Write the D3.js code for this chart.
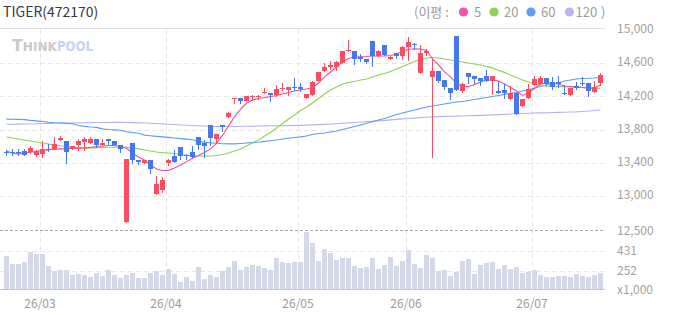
<!DOCTYPE html>
<html>
<head>
<meta charset="utf-8">
<style>
body { margin: 0; background: #fff; }
svg { display: block; font-family: "Noto Sans CJK KR", "Noto Sans", sans-serif; }
</style>
</head>
<body>
<svg id="chart" width="673" height="315"></svg>
<script src="https://cdnjs.cloudflare.com/ajax/libs/d3/7.8.5/d3.min.js"></script>
<script>
// ---- data ----
var title = 'TIGER(472170)';
var legendTitle = '(이평 :';
var maNames = ['5', '20', '60', '120'];

var dates = [
  '2026-02-20','2026-02-23','2026-02-24','2026-02-25','2026-02-26','2026-02-27',
  '2026-03-03','2026-03-04','2026-03-05','2026-03-06','2026-03-09','2026-03-10','2026-03-11','2026-03-12','2026-03-13',
  '2026-03-16','2026-03-17','2026-03-18','2026-03-19','2026-03-20','2026-03-23','2026-03-24','2026-03-25','2026-03-26',
  '2026-03-27','2026-03-30','2026-03-31',
  '2026-04-01','2026-04-02','2026-04-03','2026-04-06','2026-04-07','2026-04-08','2026-04-09','2026-04-10','2026-04-13',
  '2026-04-14','2026-04-15','2026-04-16','2026-04-17','2026-04-20','2026-04-21','2026-04-22','2026-04-23','2026-04-24',
  '2026-04-27','2026-04-28','2026-04-29','2026-04-30',
  '2026-05-04','2026-05-06','2026-05-07','2026-05-08','2026-05-11','2026-05-12','2026-05-13','2026-05-14','2026-05-15',
  '2026-05-18','2026-05-19','2026-05-20','2026-05-21','2026-05-22','2026-05-26','2026-05-27','2026-05-28','2026-05-29',
  '2026-06-01','2026-06-02','2026-06-04','2026-06-05','2026-06-08','2026-06-09','2026-06-10','2026-06-11','2026-06-12',
  '2026-06-15','2026-06-16','2026-06-17','2026-06-18','2026-06-19','2026-06-22','2026-06-23','2026-06-24','2026-06-25',
  '2026-06-26','2026-06-29','2026-06-30',
  '2026-07-01','2026-07-02','2026-07-03','2026-07-06','2026-07-07','2026-07-08','2026-07-09','2026-07-10','2026-07-13',
  '2026-07-14','2026-07-15','2026-07-16'
];

var open = [13530,13535,13535,13545,13530,13500,13510,13565,13570,13680,
  13660,13570,13620,13655,13635,13690,13615,13685,13660,13615,
  12695,13635,13435,13405,13435,13025,13075,13405,13485,13595,
  13490,13530,13715,13635,13855,13690,13855,13955,14175,14180,
  14150,14200,14200,14240,14245,14215,14295,14280,14310,14320,
  14180,14220,14390,14510,14550,14560,14605,14745,14745,14670,
  14650,14865,14685,14815,14655,14725,14685,14790,14830,14485,
  14720,14440,14505,14400,14300,14930,14270,14485,14445,14425,
  14445,14385,14265,14280,14175,14245,14085,14180,14340,14350,
  14425,14375,14375,14245,14220,14325,14365,14360,14255,14365];

var high = [13555,13565,13565,13570,13605,13555,13660,13630,13710,13725,
  13660,13605,13685,13710,13710,13690,13690,13685,13660,13615,
  13450,13635,13435,13435,13435,13245,13235,13450,13555,13595,
  13510,13605,13715,13675,13855,13750,13855,14015,14180,14180,
  14205,14215,14220,14300,14245,14340,14365,14310,14425,14360,
  14230,14390,14495,14600,14625,14630,14745,14880,14745,14710,
  14650,14865,14760,14815,14705,14725,14810,14910,14845,14815,
  14770,14650,14505,14400,14300,14930,14365,14485,14445,14425,
  14520,14445,14390,14350,14325,14245,14175,14350,14445,14445,
  14425,14430,14445,14335,14300,14375,14430,14360,14390,14485];

var low = [13500,13500,13500,13500,13515,13485,13470,13545,13565,13680,
  13405,13570,13555,13555,13635,13590,13615,13630,13615,13530,
  12695,13395,13390,13405,13285,13025,13050,13370,13410,13450,
  13450,13470,13570,13475,13615,13645,13790,13955,14125,14125,
  14150,14160,14165,14240,14150,14205,14280,14220,14280,14270,
  14180,14220,14390,14510,14525,14520,14605,14745,14585,14625,
  14600,14565,14685,14705,14650,14665,14650,14640,14770,14485,
  14695,13470,14375,14285,14165,14280,14255,14360,14360,14340,
  14385,14230,14240,14180,14175,13990,14080,14180,14340,14350,
  14335,14295,14320,14235,14220,14295,14340,14200,14255,14340];

var close = [13525,13530,13530,13500,13575,13545,13565,13550,13630,13705,
  13535,13605,13660,13690,13690,13615,13635,13660,13615,13570,
  13450,13430,13410,13435,13330,13145,13195,13435,13410,13485,
  13485,13470,13615,13605,13700,13750,13835,14005,14180,14150,
  14205,14205,14205,14255,14215,14285,14300,14310,14305,14285,
  14230,14375,14495,14560,14575,14615,14745,14760,14655,14650,
  14615,14685,14745,14705,14680,14685,14790,14855,14815,14725,
  14745,14505,14390,14310,14240,14280,14350,14440,14415,14385,
  14385,14445,14240,14245,14245,13990,14175,14285,14405,14425,
  14350,14310,14350,14240,14300,14300,14360,14270,14310,14455];

// volume, thousands of shares
var volume = [386,315,315,333,422,404,404,297,252,261,
  261,216,225,216,198,234,207,261,216,189,
  216,234,189,189,234,252,216,270,225,154,
  198,163,288,180,216,198,252,288,342,261,
  288,306,297,279,261,368,333,324,333,333,
  601,503,342,449,413,350,368,368,297,279,
  288,368,270,306,377,297,342,440,315,279,
  395,368,252,261,207,243,342,359,225,306,
  324,333,270,306,270,288,234,243,261,216,
  198,198,207,207,198,225,207,198,216,234];

var ma5 = [13545,13517,13509,13521,13529,13539,13548,13560,13565,13569,
  13569,13575,13577,13581,13587,13599,13605,13611,13611,13599,
  13577,13517,13472,13436,13376,13328,13310,13310,13340,13376,
  13416,13457,13490,13526,13569,13635,13731,13845,13957,14044,
  14118,14158,14176,14188,14200,14212,14230,14248,14266,14278,
  14290,14308,14362,14435,14495,14555,14615,14657,14675,14679,
  14681,14687,14687,14687,14693,14711,14741,14766,14775,14772,
  14754,14651,14579,14495,14435,14357,14318,14318,14344,14375,
  14398,14398,14386,14351,14309,14267,14213,14243,14296,14351,
  14362,14359,14351,14327,14318,14314,14308,14299,14303,14338];

var ma20 = [13713,13701,13689,13677,13665,13653,13641,13629,13617,13607,
  13599,13587,13581,13581,13581,13581,13587,13589,13589,13589,
  13587,13581,13569,13556,13544,13532,13524,13520,13514,13502,
  13490,13484,13484,13484,13484,13490,13502,13520,13544,13569,
  13605,13641,13677,13725,13767,13821,13875,13929,13978,14032,
  14074,14122,14176,14230,14278,14314,14351,14368,14381,14399,
  14411,14435,14459,14477,14501,14531,14561,14591,14621,14645,
  14663,14669,14663,14651,14639,14627,14615,14603,14591,14579,
  14561,14544,14514,14490,14459,14429,14399,14375,14351,14335,
  14323,14318,14318,14318,14318,14314,14308,14303,14299,14297];

var ma60 = [13928,13926,13924,13922,13912,13906,13898,13890,13884,13880,
  13876,13872,13850,13840,13833,13828,13810,13803,13798,13793,
  13775,13765,13758,13735,13727,13720,13714,13708,13700,13693,
  13687,13680,13660,13650,13642,13637,13632,13630,13630,13635,
  13640,13645,13650,13660,13668,13676,13688,13698,13706,13714,
  13725,13743,13755,13761,13773,13785,13803,13821,13839,13857,
  13875,13899,13917,13935,13960,13984,14002,14020,14038,14056,
  14074,14086,14098,14110,14122,14134,14140,14152,14164,14176,
  14188,14200,14212,14225,14239,14248,14266,14284,14302,14320,
  14338,14350,14362,14387,14399,14411,14417,14419,14423,14429];

var ma120 = [13866,13866,13867,13868,13869,13870,13874,13876,13878,13879,
  13880,13881,13883,13884,13885,13886,13887,13887,13888,13888,
  13887,13885,13882,13880,13877,13874,13870,13866,13862,13857,
  13853,13850,13847,13844,13841,13839,13838,13838,13838,13839,
  13841,13843,13845,13846,13847,13848,13848,13849,13850,13852,
  13855,13858,13861,13864,13868,13872,13877,13882,13887,13892,
  13897,13902,13907,13912,13918,13924,13930,13935,13940,13945,
  13950,13954,13957,13960,13962,13964,13966,13968,13970,13973,
  13976,13979,13982,13985,13989,13993,13996,13999,14001,14003,
  14005,14007,14009,14011,14013,14015,14020,14025,14032,14038];

var priceTicks = [15000, 14600, 14200, 13800, 13400, 13000];
var priceFloorLabel = '12,500';
var volumeTicks = [431, 252];
var volumeUnit = 'x1,000';

// ---- layout ----
var svg = d3.select('#chart');
var plotRight = 605;
var topLine = 28.5, priceBottom = 230.5, volBase = 289.5;
var upColor = '#fb4d61', downColor = '#4578ec';
var maColors = ['#f4489f', '#8fd250', '#5b9cf3', '#b6b3ef'];
var legendDot = ['#ff4fa6', '#92d452', '#5f9ef5', '#b9b6f2'];

var x = d3.scaleBand().domain(d3.range(dates.length))
  .range([3.4, 603.4]).paddingInner(0.22).paddingOuter(0.11);
var y = d3.scaleLinear().domain([13000, 15000]).range([196.2, 30]);
var yv = d3.scaleLinear().domain([252, 431]).range([271, 251]);
function bx(i) { return Math.round(x(i)); }
function wx(i) { return bx(i) + 2.5; }

var fmt = d3.format(',');

// top border
svg.append('line').attr('x1', 0).attr('x2', plotRight).attr('y1', topLine).attr('y2', topLine)
  .attr('stroke', '#dedede');

// price grid
svg.selectAll('.pgrid').data(priceTicks.filter(function(t) { return y(t) > topLine + 4; }))
  .enter().append('line')
  .attr('x1', 0).attr('x2', plotRight)
  .attr('y1', function(t) { return Math.round(y(t)) + 0.5; })
  .attr('y2', function(t) { return Math.round(y(t)) + 0.5; })
  .attr('stroke', '#e6e6e6').attr('stroke-dasharray', '5,3');

// volume grid
svg.selectAll('.vgrid').data(volumeTicks).enter().append('line')
  .attr('x1', 0).attr('x2', plotRight)
  .attr('y1', function(t) { return Math.round(yv(t)) + 0.5; })
  .attr('y2', function(t) { return Math.round(yv(t)) + 0.5; })
  .attr('stroke', '#e6e6e6').attr('stroke-dasharray', '5,3');

// month gridlines
var monthStarts = d3.range(1, dates.length).filter(function(i) {
  return dates[i].slice(5, 7) !== dates[i - 1].slice(5, 7);
});
svg.selectAll('.mgrid').data(monthStarts).enter().append('line')
  .attr('x1', function(i) { return bx(i) + 0.5; })
  .attr('x2', function(i) { return bx(i) + 0.5; })
  .attr('y1', topLine + 1).attr('y2', volBase)
  .attr('stroke', '#e6e6e6').attr('stroke-dasharray', '5,3');

// separator between price and volume
svg.append('line').attr('x1', 0).attr('x2', plotRight).attr('y1', priceBottom).attr('y2', priceBottom)
  .attr('stroke', '#a8a8a8').attr('stroke-dasharray', '3,2');

// watermark
var wm = svg.append('g').attr('font-family', '"DejaVu Sans", sans-serif').attr('font-weight', 'bold');
wm.append('text').attr('x', 12).attr('y', 51).attr('fill', '#c9c9c9')
  .attr('textLength', 45).attr('lengthAdjust', 'spacingAndGlyphs')
  .call(function(t) {
    t.append('tspan').attr('font-size', 15).text('T');
    t.append('tspan').attr('font-size', 11.5).text('HINK');
  });
wm.append('text').attr('x', 57).attr('y', 51).attr('fill', '#c6d5f2').attr('font-size', 14)
  .attr('textLength', 36).attr('lengthAdjust', 'spacingAndGlyphs').text('POOL');

// volume bars
svg.selectAll('.vol').data(volume).enter().append('rect')
  .attr('x', function(d, i) { return bx(i); })
  .attr('width', 5)
  .attr('y', function(d) { return Math.round(yv(d)); })
  .attr('height', function(d) { return volBase - 0.5 - Math.round(yv(d)); })
  .attr('fill', '#d4d9ea');

svg.append('line').attr('x1', 0).attr('x2', plotRight).attr('y1', volBase).attr('y2', volBase)
  .attr('stroke', '#c4c4c4');

// price panel
svg.append('clipPath').attr('id', 'pclip').append('rect')
  .attr('x', 0).attr('y', topLine).attr('width', plotRight).attr('height', priceBottom - topLine);
var pg = svg.append('g').attr('clip-path', 'url(#pclip)');

var maLine = d3.line().x(function(d, i) { return wx(i); }).y(function(d) { return y(d); });
[ma120, ma60, ma20, ma5].forEach(function(s, k) {
  pg.append('path').datum(s).attr('d', maLine)
    .attr('fill', 'none').attr('stroke', maColors[3 - k]).attr('stroke-width', 1.1);
});

var idx = d3.range(dates.length);
function col(i) { return close[i] >= open[i] ? upColor : downColor; }
pg.selectAll('.wick').data(idx).enter().append('line')
  .attr('x1', wx).attr('x2', wx)
  .attr('y1', function(i) { return Math.round(y(high[i])); })
  .attr('y2', function(i) { return Math.round(y(low[i])) + 1; })
  .attr('stroke', col);
pg.selectAll('.body').data(idx).enter().append('rect')
  .attr('x', bx).attr('width', 5)
  .attr('y', function(i) { return Math.round(y(Math.max(open[i], close[i]))); })
  .attr('height', function(i) {
    return Math.max(1, Math.round(y(Math.min(open[i], close[i]))) - Math.round(y(Math.max(open[i], close[i]))));
  })
  .attr('fill', col);

// right axis labels
var axisG = svg.append('g').attr('font-size', 12).attr('fill', '#a2a2a2');
axisG.selectAll('.pl').data(priceTicks).enter().append('text')
  .attr('x', 617).attr('y', function(t) { return y(t) - 1; }).attr('dy', '0.35em').text(fmt);
axisG.append('text').attr('x', 617).attr('y', priceBottom).attr('dy', '0.35em').text(priceFloorLabel);
axisG.selectAll('.vl').data(volumeTicks).enter().append('text')
  .attr('x', 617).attr('y', function(t) { return yv(t); }).attr('dy', '0.35em').text(fmt);
axisG.append('text').attr('x', 617).attr('y', volBase).attr('dy', '0.35em').text(volumeUnit);

// date labels
svg.selectAll('.dl').data(monthStarts).enter().append('text')
  .attr('x', function(i) { return bx(i); }).attr('y', 308)
  .attr('text-anchor', 'middle').attr('font-size', 12).attr('fill', '#9a9a9a')
  .text(function(i) { return dates[i].slice(2, 4) + '/' + dates[i].slice(5, 7); });

// title
svg.append('text').attr('x', 3).attr('y', 17).attr('font-size', 14).attr('fill', '#3a3a3a').text(title);

// legend
var lg = svg.append('g').attr('font-size', 13).attr('fill', '#9c9c9c');
lg.append('text').attr('x', 414).attr('y', 16.5).text(legendTitle);
var dotX = [463.5, 494, 531, 569.5], labX = [474, 504, 541, 575.5];
maNames.forEach(function(n, k) {
  lg.append('circle').attr('cx', dotX[k]).attr('cy', 12).attr('r', 4.6).attr('fill', legendDot[k]);
  lg.append('text').attr('x', labX[k]).attr('y', 16.5).text(n);
});
lg.append('text').attr('x', 601).attr('y', 16.5).text(')');
</script>
</body>
</html>
